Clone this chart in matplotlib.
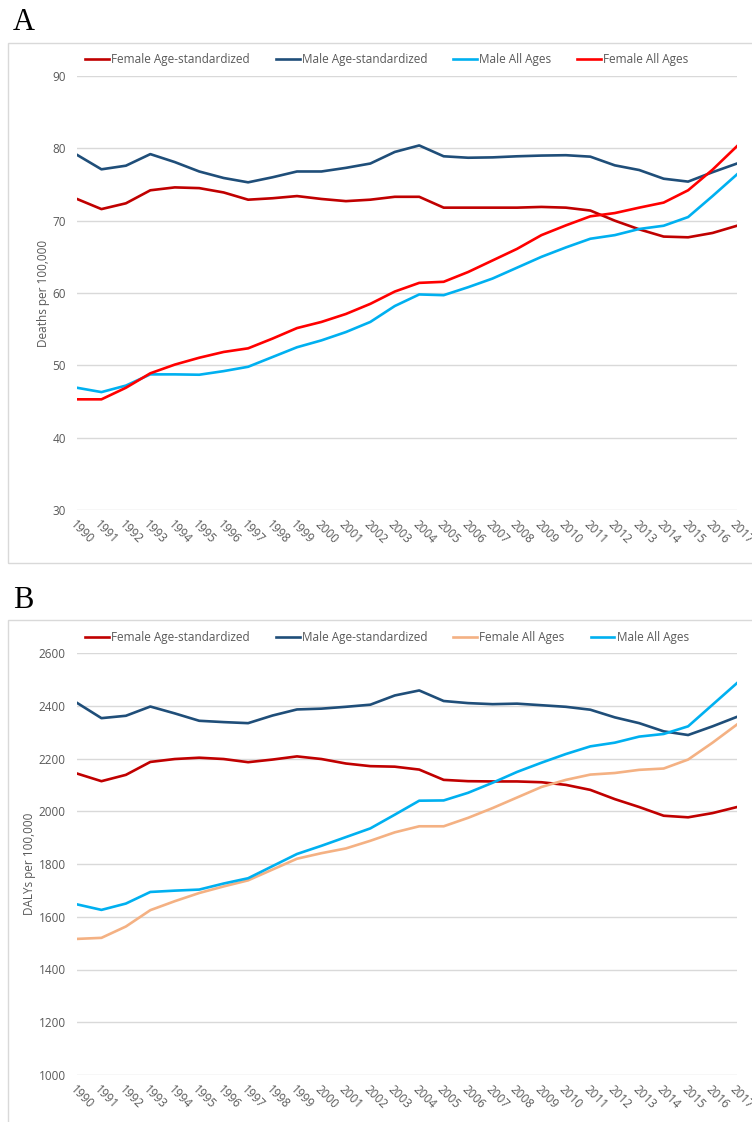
import matplotlib.pyplot as plt
from matplotlib.patches import Rectangle

plt.rcParams['font.family'] = ['Open Sans', 'DejaVu Sans']

years = list(range(1990, 2018))

# panel A: deaths per 100,000
a_female_std = [73.0, 71.6, 72.4, 74.2, 74.6, 74.5, 73.9, 72.9, 73.1, 73.4, 73.0, 72.7, 72.9, 73.3,
                73.3, 71.8, 71.8, 71.8, 71.8, 71.9, 71.8, 71.4, 70.0, 68.8, 67.8, 67.7, 68.3, 69.3]
a_male_std = [79.1, 77.1, 77.6, 79.2, 78.1, 76.8, 75.9, 75.3, 76.0, 76.8, 76.8, 77.3, 77.9, 79.5,
              80.4, 78.9, 78.7, 78.75, 78.9, 79.0, 79.05, 78.85, 77.65, 77.0, 75.8, 75.4, 76.7, 77.9]
a_male_all = [46.9, 46.3, 47.2, 48.75, 48.75, 48.7, 49.2, 49.8, 51.15, 52.5, 53.45, 54.6, 56.0, 58.2,
              59.8, 59.7, 60.8, 62.0, 63.5, 65.0, 66.3, 67.5, 68.0, 68.85, 69.3, 70.5, 73.4, 76.4]
a_female_all = [45.3, 45.3, 46.9, 48.9, 50.1, 51.05, 51.85, 52.35, 53.7, 55.15, 56.0, 57.1, 58.5, 60.2,
                61.4, 61.55, 62.9, 64.5, 66.1, 68.0, 69.35, 70.6, 71.05, 71.8, 72.5, 74.2, 77.05, 80.3]

# panel B: DALYs per 100,000
b_female_std = [2143, 2114, 2138, 2187, 2198, 2203, 2198, 2186, 2196, 2208, 2198, 2181, 2171, 2169,
                2158, 2119, 2114, 2113, 2113, 2110, 2100, 2081, 2046, 2016, 1983, 1977, 1993, 2016]
b_male_std = [2411, 2353, 2362, 2397, 2371, 2343, 2338, 2334, 2363, 2386, 2389, 2396, 2404, 2439,
              2458, 2418, 2410, 2406, 2408, 2402, 2396, 2385, 2356, 2334, 2303, 2289, 2322, 2358]
b_female_all = [1516, 1520, 1563, 1625, 1659, 1690, 1715, 1738, 1779, 1820, 1841, 1859, 1888, 1920,
                1943, 1943, 1975, 2012, 2052, 2092, 2119, 2139, 2145, 2157, 2162, 2196, 2260, 2329]
b_male_all = [1647, 1626, 1650, 1694, 1699, 1703, 1726, 1746, 1792, 1838, 1869, 1902, 1935, 1987,
              2040, 2041, 2070, 2108, 2149, 2184, 2217, 2246, 2260, 2283, 2293, 2322, 2404, 2486]

DARKRED = '#C00000'
NAVY = '#1F4E79'
SKY = '#00B0F0'
RED = '#FF0000'
PEACH = '#F4B183'
GRAY = '#595959'

W, H = 752, 1122
fig = plt.figure(figsize=(W / 100, H / 100), dpi=100)

# outer chart frames
fig.patches.append(Rectangle((8 / W, 1 - 563 / H), 1.0, (563 - 43) / H, transform=fig.transFigure,
                             fill=False, ec='#D9D9D9', lw=1))
fig.patches.append(Rectangle((8 / W, -0.05), 1.0, 0.05 + 1 - 620 / H, transform=fig.transFigure,
                             fill=False, ec='#D9D9D9', lw=1))

axA = fig.add_axes([77 / W, 1 - 510 / H, 660 / W, 434 / H])
axB = fig.add_axes([77 / W, 1 - 1075 / H, 660 / W, 422 / H])


def style(ax, ylim, yticks, ylabel):
    ax.set_xlim(1990, 2017)
    ax.set_ylim(*ylim)
    ax.set_yticks(yticks)
    ax.set_xticks(years)
    ax.set_xticklabels([str(y) for y in years], rotation=-45, ha='left', va='top',
                       rotation_mode='anchor', fontsize=8.5, color=GRAY)
    ax.tick_params(axis='x', length=0, pad=6)
    ax.tick_params(axis='y', length=0, pad=8, labelsize=8.5, labelcolor=GRAY)
    for s in ax.spines.values():
        s.set_visible(False)
    ax.grid(axis='y', color='#D9D9D9', lw=1)
    ax.set_axisbelow(True)
    ax.set_ylabel(ylabel, fontsize=8.5, color=GRAY, labelpad=2)


lw = 1.9
axA.plot(years, a_female_std, color=DARKRED, lw=lw, label='Female Age-standardized')
axA.plot(years, a_male_std, color=NAVY, lw=lw, label='Male Age-standardized')
axA.plot(years, a_male_all, color=SKY, lw=lw, label='Male All Ages')
axA.plot(years, a_female_all, color=RED, lw=lw, label='Female All Ages')
style(axA, (30, 90), [30, 40, 50, 60, 70, 80, 90], 'Deaths per 100,000')

axB.plot(years, b_female_std, color=DARKRED, lw=lw, label='Female Age-standardized')
axB.plot(years, b_male_std, color=NAVY, lw=lw, label='Male Age-standardized')
axB.plot(years, b_female_all, color=PEACH, lw=lw, label='Female All Ages')
axB.plot(years, b_male_all, color=SKY, lw=lw, label='Male All Ages')
style(axB, (1000, 2600), list(range(1000, 2601, 200)), 'DALYs per 100,000')

for ax, yc in ((axA, 60), (axB, 638)):
    leg = ax.legend(loc='center', bbox_to_anchor=(387 / W, 1 - yc / H), bbox_transform=fig.transFigure,
                    ncol=4, frameon=False, fontsize=8.5, handlelength=2.0, handletextpad=0.2,
                    columnspacing=2.2)
    for t in leg.get_texts():
        t.set_color(GRAY)

fig.text(13 / W, 1 - 23 / H, 'A', fontsize=22, family='Liberation Serif', va='center', ha='left')
fig.text(13 / W, 1 - 601 / H, 'B', fontsize=22, family='Liberation Serif', va='center', ha='left')

fig.savefig('out.png', dpi=100)
